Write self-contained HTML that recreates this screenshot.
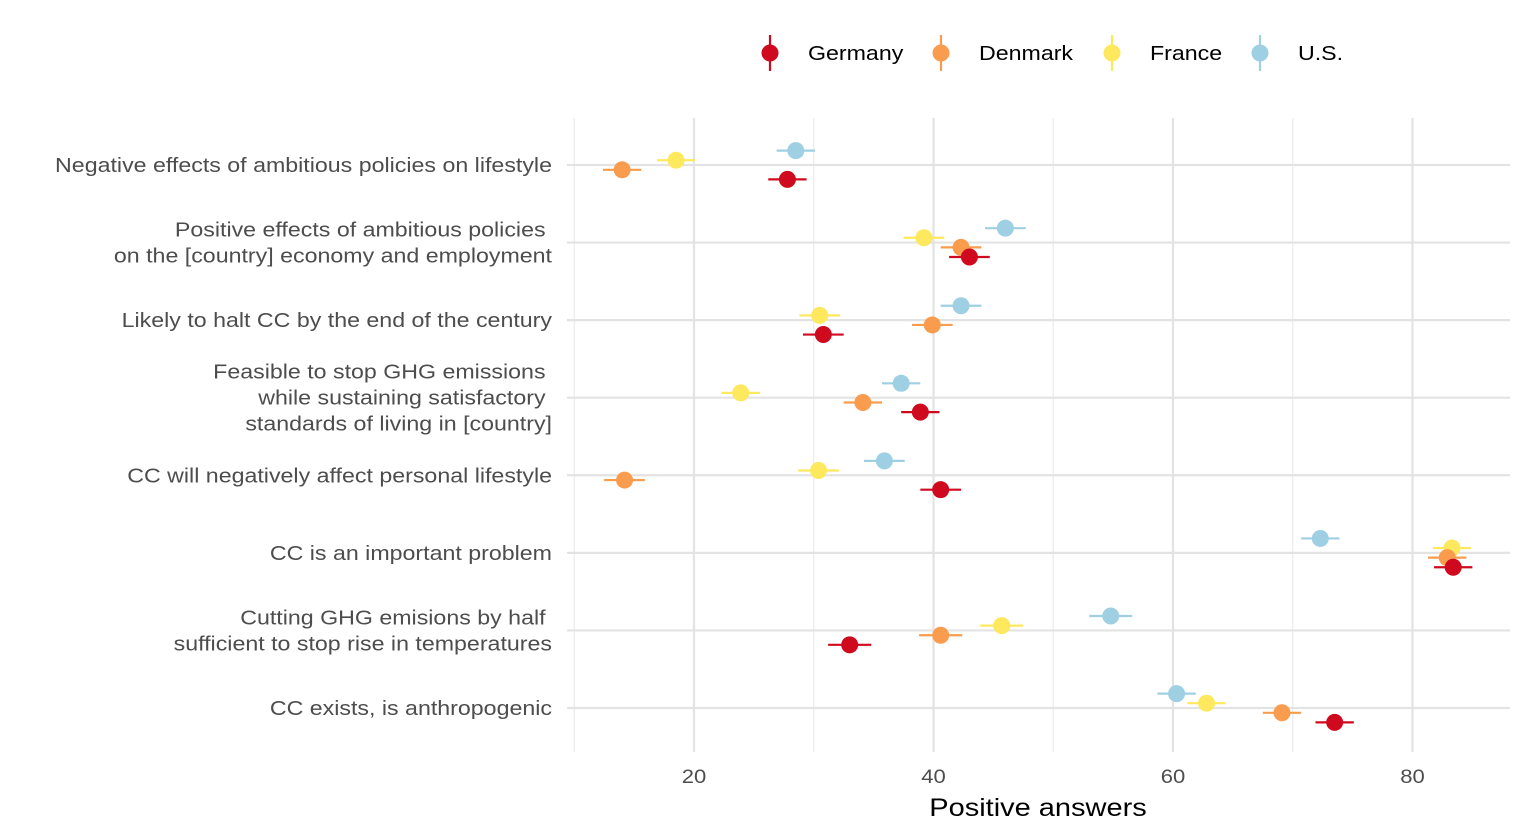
<!DOCTYPE html>
<html><head><meta charset="utf-8"><style>
body{margin:0;background:#fff;}
svg{display:block;font-family:"Liberation Sans",Arial,sans-serif;}
</style></head><body>
<svg id="chart" width="1526" height="838"></svg>
<script>
const categories=["Negative effects of ambitious policies on lifestyle","Positive effects of ambitious policies \non the [country] economy and employment","Likely to halt CC by the end of the century","Feasible to stop GHG emissions \nwhile sustaining satisfactory \nstandards of living in [country]","CC will negatively affect personal lifestyle","CC is an important problem","Cutting GHG emisions by half \nsufficient to stop rise in temperatures","CC exists, is anthropogenic"];
const seriesNames=["U.S.","France","Denmark","Germany"];
const usVals=[28.5,46,42.3,37.3,35.9,72.3,54.8,60.3];
const frVals=[18.5,39.2,30.5,23.9,30.4,83.3,45.7,62.8];
const dkVals=[14,42.3,39.9,34.1,14.2,82.9,40.6,69.1];
const deVals=[27.8,43,30.8,38.9,40.6,83.4,33,73.5];
const errVals=[1.6,1.7,1.7,1.6,1.7,1.6,1.8,1.6];
const xTicks=[20,40,60,80];
const legendNames=["Germany","Denmark","France","U.S."];

const colors={"U.S.":"#9ecfe2","France":"#fde85e","Denmark":"#f99c4e","Germany":"#cf0a1f"};
const svg=document.getElementById('chart');
const NS="http://www.w3.org/2000/svg";
const x=v=>454.5+v*11.975;
const y=i=>165+i*77.57;
const offsets=[-14.4,-4.8,4.8,14.4];
const SX=1.16;
function mk(tag,attrs,parent){const e=document.createElementNS(NS,tag);for(const k in attrs)e.setAttribute(k,attrs[k]);(parent||svg).appendChild(e);return e;}
function stretch(t,ax){t.setAttribute('transform','translate('+ax+',0) scale('+SX+',1) translate('+(-ax)+',0)');}
const grid=mk('g',{});


for(let v=10;v<=85;v+=10){mk('line',{x1:x(v),x2:x(v),y1:118,y2:752,stroke:'#ebebeb','stroke-width':1.2},grid);}
xTicks.forEach(v=>mk('line',{x1:x(v),x2:x(v),y1:118,y2:752,stroke:'#e3e3e3','stroke-width':2.2},grid));
categories.forEach((c,i)=>mk('line',{x1:567,x2:1510,y1:y(i),y2:y(i),stroke:'#e3e3e3','stroke-width':2.2},grid));
categories.forEach((c,i)=>{
 const lines=c.split('\n');
 const t=mk('text',{x:552,'text-anchor':'end','font-size':20,fill:'#4d4d4d'});
 
 
 stretch(t,552);
 const y0=y(i)+7-(lines.length-1)*13;
 lines.forEach((l,j)=>{const s=mk('tspan',{x:552,y:y0+j*26},t);s.textContent=l;});
});
xTicks.forEach(v=>{const t=mk('text',{x:x(v),y:783,'text-anchor':'middle','font-size':19,fill:'#4d4d4d'});
 
 
 stretch(t,x(v));
 t.textContent=v;});
const xt=mk('text',{x:1038,y:816,'text-anchor':'middle','font-size':25,fill:'#000'});


stretch(xt,1038);
xt.textContent="Positive answers";
const allVals=[usVals,frVals,dkVals,deVals];
allVals.forEach((vals,s)=>{
 const name=seriesNames[s],col=colors[name];
 vals.forEach((v,i)=>{
  const cy=y(i)+offsets[s];
  const g=mk('g',{});
  
  
  mk('line',{x1:x(v-errVals[i]),x2:x(v+errVals[i]),y1:cy,y2:cy,stroke:col,'stroke-width':2.2},g);
  mk('circle',{cx:x(v),cy:cy,r:8.5,fill:col},g);
 });
});
const lx=[770,941,1112,1260];
legendNames.forEach((n,k)=>{
 const g=mk('g',{});
 
 
 mk('line',{x1:lx[k],x2:lx[k],y1:35,y2:71,stroke:colors[n],'stroke-width':2.2},g);
 mk('circle',{cx:lx[k],cy:53,r:8.5,fill:colors[n]},g);
 const t=mk('text',{x:lx[k]+38,y:60,'font-size':20,fill:'#000'},g);
 stretch(t,lx[k]+38);
 t.textContent=n;
});
</script>
</body></html>
